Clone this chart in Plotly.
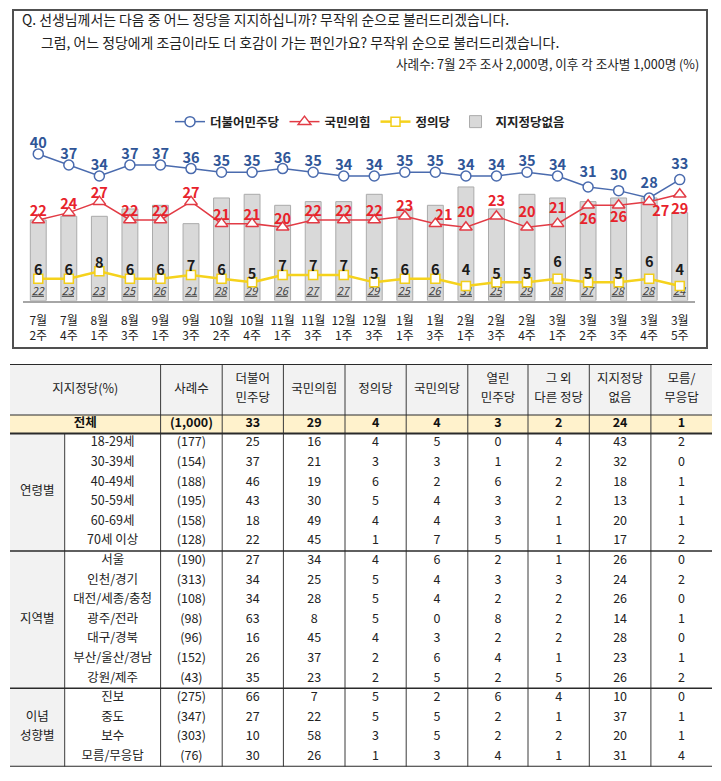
import plotly.graph_objects as go

W, H = 721, 781
FONT = "Noto Sans CJK KR, Noto Sans, sans-serif"

# ---------------- data ----------------
weeks = ["7월<br>2주", "7월<br>4주", "8월<br>1주", "8월<br>3주", "9월<br>1주", "9월<br>3주",
         "10월<br>2주", "10월<br>4주", "11월<br>1주", "11월<br>3주", "12월<br>1주", "12월<br>3주",
         "1월<br>1주", "1월<br>3주", "2월<br>1주", "2월<br>3주", "2월<br>4주", "3월<br>1주",
         "3월<br>2주", "3월<br>3주", "3월<br>4주", "3월<br>5주"]
minju = [40, 37, 34, 37, 37, 36, 35, 35, 36, 35, 34, 34, 35, 35, 34, 34, 35, 34, 31, 30, 28, 33]
ppp = [22, 24, 27, 22, 22, 27, 21, 21, 20, 22, 22, 22, 23, 21, 20, 23, 20, 21, 26, 26, 27, 29]
justice = [6, 6, 8, 6, 6, 7, 6, 5, 7, 7, 7, 5, 6, 6, 4, 5, 5, 6, 5, 5, 6, 4]
no_party = [22, 23, 23, 25, 26, 21, 28, 29, 26, 27, 27, 29, 25, 26, 31, 25, 29, 28, 27, 28, 28, 24]

title_lines = ["Q. 선생님께서는 다음 중 어느 정당을 지지하십니까? 무작위 순으로 불러드리겠습니다.",
               "그럼, 어느 정당에게 조금이라도 더 호감이 가는 편인가요? 무작위 순으로 불러드리겠습니다."]
sample_note = "사례수: 7월 2주 조사 2,000명, 이후 각 조사별 1,000명 (%)"

headers = ["지지정당(%)", "사례수", "더불어<br>민주당", "국민의힘", "정의당", "국민의당",
           "열린<br>민주당", "그 외<br>다른 정당", "지지정당<br>없음", "모름/<br>무응답"]
total_row = ["전체", "(1,000)", 33, 29, 4, 4, 3, 2, 24, 1]
groups = ["연령별", "지역별", "이념<br>성향별"]
group_sizes = [6, 7, 4]
subgroups = ["18-29세", "30-39세", "40-49세", "50-59세", "60-69세", "70세 이상",
             "서울", "인천/경기", "대전/세종/충청", "광주/전라", "대구/경북", "부산/울산/경남", "강원/제주",
             "진보", "중도", "보수", "모름/무응답"]
samples = ["(177)", "(154)", "(188)", "(195)", "(158)", "(128)", "(190)", "(313)", "(108)", "(98)",
           "(96)", "(152)", "(43)", "(275)", "(347)", "(303)", "(76)"]
t_minju = [25, 37, 46, 43, 18, 22, 27, 34, 34, 63, 16, 26, 35, 66, 27, 10, 30]
t_ppp = [16, 21, 19, 30, 49, 45, 34, 25, 28, 8, 45, 37, 23, 7, 22, 58, 26]
t_justice = [4, 3, 6, 5, 4, 1, 4, 5, 5, 5, 4, 2, 2, 5, 5, 3, 1]
t_kukmin = [5, 3, 2, 4, 4, 7, 6, 4, 4, 0, 3, 6, 5, 2, 5, 5, 3]
t_open = [0, 1, 6, 3, 3, 5, 2, 3, 2, 8, 2, 4, 2, 6, 2, 2, 4]
t_other = [4, 2, 2, 2, 1, 1, 1, 3, 2, 2, 2, 1, 5, 4, 1, 2, 1]
t_none = [43, 32, 18, 13, 20, 17, 26, 24, 26, 14, 28, 23, 26, 10, 37, 20, 31]
t_dk = [2, 0, 1, 1, 1, 2, 0, 2, 0, 1, 0, 1, 2, 0, 1, 1, 4]

# ---------------- helpers ----------------
def px(x):
    return x / W

def py(y):
    return 1 - y / H

idx = list(range(len(weeks)))
n = len(idx)

fig = go.Figure()

BLUE, RED, YEL = "#4A6BAE", "#E23B45", "#F5D21C"

# ---------------- chart: lines ----------------
fig.add_trace(go.Scatter(
    x=idx, y=minju, name="더불어민주당", mode="lines+markers",
    line=dict(color=BLUE, width=1.5),
    marker=dict(symbol="circle", size=10, color="white", line=dict(color=BLUE, width=1.5)),
    cliponaxis=False, hoverinfo="skip"))
fig.add_trace(go.Scatter(
    x=idx, y=ppp, name="국민의힘", mode="lines+markers",
    line=dict(color=RED, width=1.5),
    marker=dict(symbol="triangle-up", size=11, color="white", line=dict(color=RED, width=1.5)),
    cliponaxis=False, hoverinfo="skip"))
fig.add_trace(go.Scatter(
    x=idx, y=justice, name="정의당", mode="lines+markers",
    line=dict(color=YEL, width=2.5),
    marker=dict(symbol="square", size=9, color="white", line=dict(color="#F2CE1A", width=1.5)),
    cliponaxis=False, hoverinfo="skip"))
fig.add_trace(go.Bar(
    x=idx, y=no_party, name="지지정당없음", width=0.52,
    marker=dict(color="#D9D9D9", line=dict(color="#ABABAB", width=1)),
    text=[f"<u><i>{v}</i></u>" for v in no_party], textposition="inside",
    insidetextanchor="start", constraintext="none", textangle=0,
    insidetextfont=dict(color="#404040", size=11, family=FONT),
    hoverinfo="skip"))

# ---------------- chart: value labels (offset set via invisible marker size) ----------------
blue_off = [2.2] * n
for i in (18, 19, 20, 21):
    blue_off[i] = 9.0
red_pos = ["top center"] * n
red_off = [0] * n
red_off[12] = 1.8
red_pos[13] = "top right"
for i in (14, 15, 16, 17):
    red_off[i] = 9.6
red_pos[18] = "bottom center"; red_off[18] = 11.5
red_pos[19] = "bottom center"; red_off[19] = 8.0
red_pos[20] = "bottom right"; red_off[20] = 3.2
red_pos[21] = "bottom center"; red_off[21] = 12.0
yel_off = [0] * n
for i in (14, 17, 20, 21):
    yel_off[i] = 10.5

for vals, pos, off, col in [(minju, "top center", blue_off, "#2F5597"),
                            (ppp, red_pos, red_off, "#E8222B"),
                            (justice, "top center", yel_off, "#1a1a1a")]:
    fig.add_trace(go.Scatter(
        x=idx, y=vals, mode="markers+text", showlegend=False,
        marker=dict(size=off, opacity=0, color="white"),
        text=[str(v) for v in vals], textposition=pos,
        textfont=dict(color=col, size=14.5, family=FONT, weight="bold"),
        cliponaxis=False, hoverinfo="skip"))

fig.update_layout(
    xaxis=dict(domain=[px(23), px(695)], range=[-0.5, 21.5], tickmode="array",
               tickvals=idx, ticktext=weeks, showgrid=False, zeroline=False,
               showline=True, linecolor="#A6A6A6", linewidth=1.5, ticks="",
               tickfont=dict(size=12, color="#222", family=FONT), ticklabelstandoff=8,
               fixedrange=True),
    yaxis=dict(domain=[py(300.7), py(146.6)], range=[0, 42], visible=False, fixedrange=True),
)

# ---------------- table ----------------
col_w = [54.7, 95.9, 61.6, 61.2, 61.6, 61.2, 61.6, 60.2, 61.3, 61.6, 61.1]
col_edges = [0]
for w in col_w:
    col_edges.append(col_edges[-1] + w)
TW = col_edges[-1]
HEAD_H, TOT_H, ROW_H = 51, 18.5, 19.6
LINE_GAP = 18.5
row_top = HEAD_H + TOT_H
n_rows = len(subgroups)
T_BOTTOM = row_top + n_rows * ROW_H
T_TOP_PX = 364

def ccenter(i):
    return (col_edges[i] + col_edges[i + 1]) / 2

def split_lines(label, cx, cy):
    parts = label.split("<br>")
    k = len(parts)
    return [(cx, cy + (j - (k - 1) / 2) * LINE_GAP, p) for j, p in enumerate(parts)]

fig.update_layout(
    xaxis2=dict(domain=[px(10), px(10 + TW)], range=[0, TW], visible=False, fixedrange=True, anchor="y2"),
    yaxis2=dict(domain=[py(T_TOP_PX + T_BOTTOM), py(T_TOP_PX)], range=[T_BOTTOM, 0],
                visible=False, fixedrange=True, anchor="x2"),
)

shapes = []
# chart frame
shapes.append(dict(type="rect", xref="paper", yref="paper", x0=px(13), x1=px(707),
                   y0=py(348), y1=py(10), line=dict(color="#505050", width=2), layer="below"))
# table backgrounds
shapes.append(dict(type="rect", xref="x2", yref="y2", x0=0, x1=TW, y0=0, y1=HEAD_H,
                   fillcolor="#F2F2F2", line=dict(width=0), layer="below"))
shapes.append(dict(type="rect", xref="x2", yref="y2", x0=0, x1=TW, y0=HEAD_H, y1=row_top,
                   fillcolor="#FFF2CC", line=dict(width=0), layer="below"))
shapes.append(dict(type="rect", xref="x2", yref="y2", x0=0, x1=col_edges[1], y0=row_top, y1=T_BOTTOM,
                   fillcolor="#F2F2F2", line=dict(width=0), layer="below"))
# vertical lines
for i in range(2, len(col_edges) - 1):
    shapes.append(dict(type="line", xref="x2", yref="y2", x0=col_edges[i], x1=col_edges[i],
                       y0=0, y1=T_BOTTOM, line=dict(color="#3a3a3a", width=1)))
shapes.append(dict(type="line", xref="x2", yref="y2", x0=col_edges[1], x1=col_edges[1],
                   y0=row_top, y1=T_BOTTOM, line=dict(color="#3a3a3a", width=1)))
# horizontal lines
hlines = [(0, 2), (HEAD_H, 1.2), (row_top, 2)]
acc = 0
for g in group_sizes:
    acc += g
    hlines.append((row_top + acc * ROW_H, 1.5 if acc < n_rows else 2))
for yv, lw in hlines:
    shapes.append(dict(type="line", xref="x2", yref="y2", x0=0, x1=TW, y0=yv, y1=yv,
                       line=dict(color="#2a2a2a", width=lw)))
fig.update_layout(shapes=shapes)

# header text (each line placed separately)
hx = [(col_edges[0] + col_edges[2]) / 2] + [ccenter(i) for i in range(2, 11)]
hpts = []
for lab, cx in zip(headers, hx):
    hpts += split_lines(lab, cx, HEAD_H / 2)
fig.add_trace(go.Scatter(x=[p[0] for p in hpts], y=[p[1] for p in hpts], text=[p[2] for p in hpts],
                         mode="text", textposition="middle center", xaxis="x2", yaxis="y2",
                         showlegend=False, textfont=dict(size=12.5, color="#222", family=FONT),
                         hoverinfo="skip", cliponaxis=False))
# total row
fig.add_trace(go.Scatter(x=hx, y=[HEAD_H + TOT_H / 2] * len(total_row),
                         text=[str(v) for v in total_row], mode="text",
                         textposition="middle center", xaxis="x2", yaxis="y2", showlegend=False,
                         textfont=dict(size=12.5, color="#111", family=FONT, weight="bold"),
                         hoverinfo="skip", cliponaxis=False))
# group labels
gpts = []
acc = 0
for lab, g in zip(groups, group_sizes):
    gpts += split_lines(lab, ccenter(0), row_top + (acc + g / 2) * ROW_H)
    acc += g
fig.add_trace(go.Scatter(x=[p[0] for p in gpts], y=[p[1] for p in gpts], text=[p[2] for p in gpts],
                         mode="text", textposition="middle center", xaxis="x2", yaxis="y2",
                         showlegend=False, textfont=dict(size=12.5, color="#222", family=FONT),
                         hoverinfo="skip", cliponaxis=False))
# body
body_cols = [subgroups, samples, t_minju, t_ppp, t_justice, t_kukmin, t_open, t_other, t_none, t_dk]
bx, by, bt = [], [], []
for ci, col in enumerate(body_cols):
    for ri, v in enumerate(col):
        bx.append(ccenter(ci + 1))
        by.append(row_top + (ri + 0.5) * ROW_H)
        bt.append(str(v))
fig.add_trace(go.Scatter(x=bx, y=by, text=bt, mode="text", textposition="middle center",
                         xaxis="x2", yaxis="y2", showlegend=False,
                         textfont=dict(size=12.5, color="#222", family=FONT), hoverinfo="skip",
                         cliponaxis=False))

# ---------------- titles ----------------
annotations = [
    dict(text=title_lines[0], x=px(20), y=py(19), xref="paper", yref="paper", xanchor="left",
         yanchor="middle", showarrow=False, font=dict(size=13.9, color="#222", family=FONT)),
    dict(text=title_lines[1], x=px(39), y=py(42), xref="paper", yref="paper", xanchor="left",
         yanchor="middle", showarrow=False, font=dict(size=13.9, color="#222", family=FONT)),
    dict(text=sample_note, x=px(701), y=py(63), xref="paper", yref="paper", xanchor="right",
         yanchor="middle", showarrow=False, font=dict(size=12.6, color="#222", family=FONT)),
]

fig.update_layout(
    width=W, height=H, margin=dict(l=0, r=0, t=0, b=0),
    paper_bgcolor="white", plot_bgcolor="rgba(0,0,0,0)",
    annotations=annotations,
    showlegend=True,
    legend=dict(orientation="h", x=px(370), xanchor="center", y=py(122), yanchor="middle",
                font=dict(size=12.5, color="#222", family=FONT, weight="bold"),
                itemwidth=30, traceorder="normal", bgcolor="rgba(0,0,0,0)"),
    font=dict(family=FONT),
    bargap=0.48,
)

fig.write_html("out.html", config={"displayModeBar": False},
               post_script="document.body.style.margin='0';document.body.style.overflow='hidden';")
